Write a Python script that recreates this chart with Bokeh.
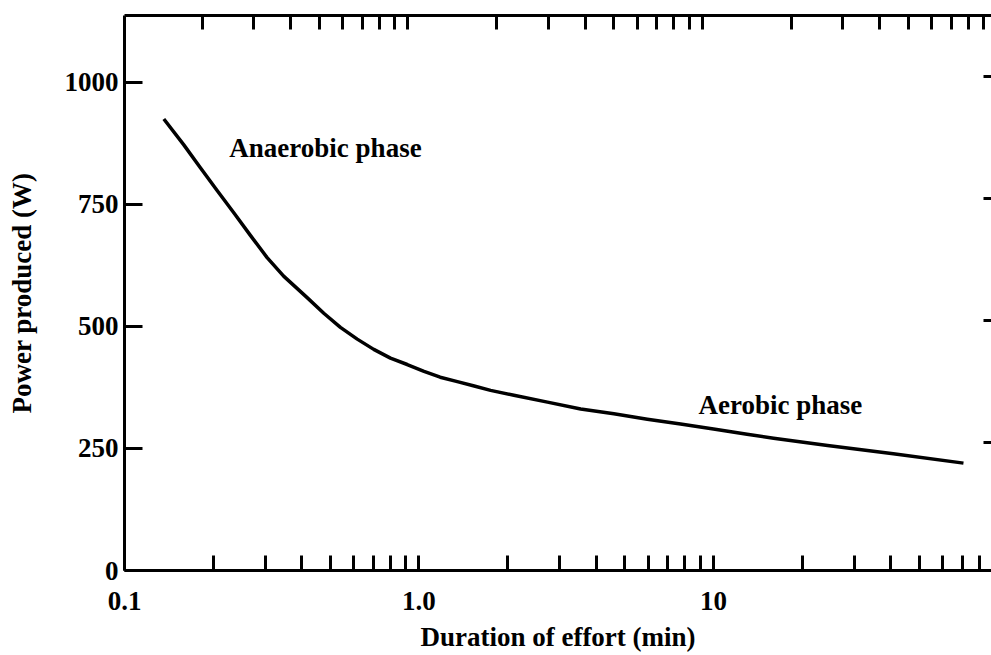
from bokeh.plotting import figure
from bokeh.models import Range1d, LogScale, LinearAxis, LogAxis, FixedTicker, Label
from bokeh.embed import file_html
from bokeh.resources import INLINE

# ---- data ----
duration_min = [0.136, 0.159, 0.181, 0.206, 0.235, 0.268, 0.305, 0.347, 0.417,
                0.475, 0.541, 0.617, 0.702, 0.800, 0.912, 1.04, 1.18, 1.35, 1.54,
                1.75, 2.10, 2.73, 3.54, 4.59, 5.96, 7.73, 10.0, 13.0, 16.0,
                24.4, 40.8, 70.6]
power_w = [925, 872, 825, 779, 733, 686, 641, 603, 559,
           527, 498, 474, 453, 435, 422, 408, 396, 387, 378,
           369, 359, 345, 331, 321, 310, 300, 290, 279, 271,
           256, 239, 220]

x_major_ticks = [0.1, 1.0, 10.0]
x_minor_ticks = [0.2, 0.3, 0.4, 0.5, 0.6, 0.7, 0.8, 0.9,
                 2, 3, 4, 5, 6, 7, 8, 9,
                 20, 30, 40, 50, 60, 70, 80, 90]
x_tick_labels = {0.1: "0.1", 1.0: "1.0", 10.0: "10"}
y_ticks = [0, 250, 500, 750, 1000]
y_right_ticks = [250, 500, 750, 1000]

x_title = "Duration of effort (min)"
y_title = "Power produced (W)"
phase_names = ["Anaerobic phase", "Aerobic phase"]
phase_x = [0.227, 8.89]
phase_y = [865, 339]

FONT = "Liberation Serif"
FS = "27px"

p = figure(width=991, height=655,
           x_range=Range1d(0.1, 87.9), y_range=Range1d(0, 1137),
           x_axis_type="log", x_axis_location=None, y_axis_location=None,
           output_backend="svg", toolbar_location=None,
           min_border_left=124, min_border_right=0, min_border_top=15, min_border_bottom=85)
p.grid.visible = False
p.outline_line_color = None
p.background_fill_color = "white"
p.border_fill_color = "white"

p.extra_x_ranges = {"top": Range1d(0.109, 95.8)}
p.extra_x_scales = {"top": LogScale()}
p.extra_y_ranges = {"right": Range1d(-12.3, 1124.7)}


def style(ax):
    ax.axis_line_width = 3
    ax.axis_line_color = "black"
    ax.major_tick_line_width = 3
    ax.minor_tick_line_width = 3
    ax.major_tick_line_color = "black"
    ax.minor_tick_line_color = "black"
    ax.major_tick_out = 0
    ax.minor_tick_out = 0
    ax.major_label_text_font = FONT
    ax.major_label_text_font_style = "bold"
    ax.major_label_text_font_size = FS
    ax.major_label_text_color = "black"
    ax.axis_label_text_font = FONT
    ax.axis_label_text_font_style = "bold"
    ax.axis_label_text_font_size = FS
    ax.axis_label_text_color = "black"


def hide_labels(ax, ticks):
    ax.major_label_overrides = {t: "" for t in ticks}
    ax.major_label_text_font_size = "1px"
    ax.major_label_text_alpha = 0
    ax.major_label_standoff = 0


bottom = LogAxis(ticker=FixedTicker(ticks=x_major_ticks, minor_ticks=x_minor_ticks),
                 major_label_overrides=x_tick_labels, axis_label=x_title)
style(bottom)
bottom.major_tick_in = 15
bottom.minor_tick_in = 15
bottom.major_label_standoff = 21
bottom.axis_label_standoff = 9
p.add_layout(bottom, "below")

top = LogAxis(x_range_name="top",
              ticker=FixedTicker(ticks=x_major_ticks, minor_ticks=x_minor_ticks))
style(top)
top.major_tick_in = 14
top.minor_tick_in = 14
hide_labels(top, x_major_ticks)
p.add_layout(top, "above")

left = LinearAxis(ticker=FixedTicker(ticks=y_ticks), axis_label=y_title)
style(left)
left.major_tick_in = 18
left.minor_tick_in = 0
left.major_label_standoff = 6
left.axis_label_standoff = 25
p.add_layout(left, "left")

right = LinearAxis(y_range_name="right", ticker=FixedTicker(ticks=y_right_ticks))
style(right)
right.axis_line_color = None
right.major_tick_in = 8
right.minor_tick_in = 0
hide_labels(right, y_right_ticks)
p.add_layout(right, "right")

p.line(duration_min, power_w, line_width=3.5, line_color="black", line_join="round")

for name, xv, yv in zip(phase_names, phase_x, phase_y):
    p.add_layout(Label(x=xv, y=yv, text=name, text_font=FONT, text_font_style="bold",
                       text_font_size=FS, text_color="black",
                       text_align="left", text_baseline="middle"))

open("out.html", "w").write(file_html(p, INLINE))
